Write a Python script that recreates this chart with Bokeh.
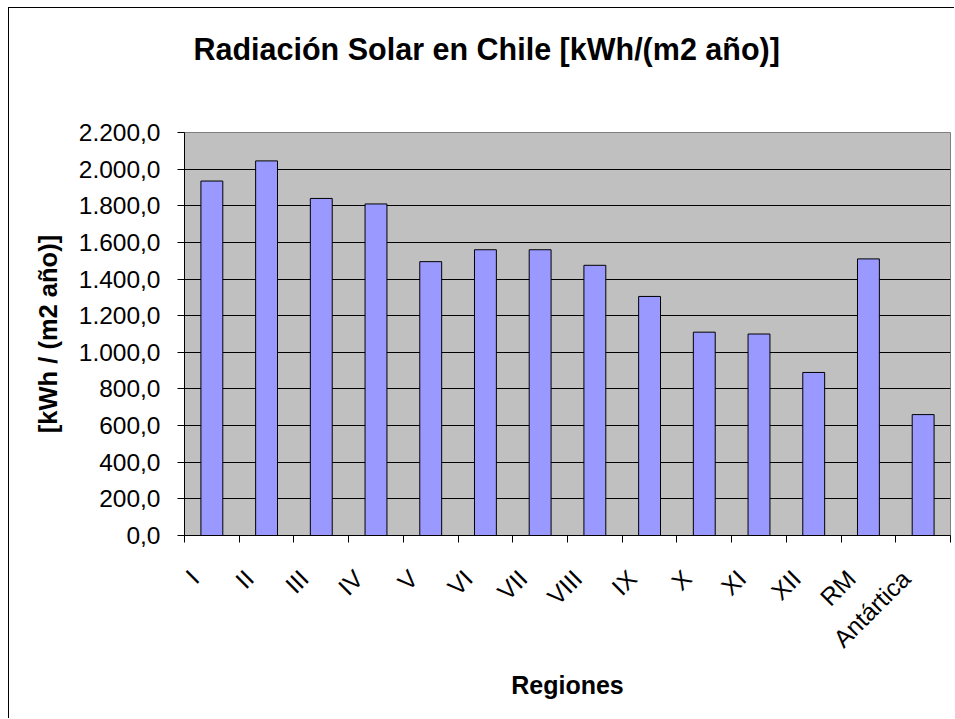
import math
from bokeh.plotting import figure
from bokeh.models import Range1d, FixedTicker, Title
from bokeh.embed import file_html
from bokeh.resources import INLINE

# ---- data ----
regions = ["I", "II", "III", "IV", "V", "VI", "VII", "VIII", "IX", "X", "XI", "XII", "RM", "Antártica"]
radiation = [1935, 2045, 1840, 1810, 1495, 1560, 1560, 1475, 1305, 1110, 1100, 890, 1510, 660]
y_ticks = [0, 200, 400, 600, 800, 1000, 1200, 1400, 1600, 1800, 2000, 2200]
y_tick_labels = ["0,0", "200,0", "400,0", "600,0", "800,0", "1.000,0", "1.200,0",
                 "1.400,0", "1.600,0", "1.800,0", "2.000,0", "2.200,0"]
title_text = "Radiación Solar en Chile [kWh/(m2 año)]"
x_label = "Regiones"
y_label = "[kWh / (m2 año)]"

FONT = "Liberation Sans"

n = len(regions)
x_centers = [i + 0.5 for i in range(n)]
x_bounds = list(range(n + 1))
# rotated labels end a little left of the category centre (as in the original)
x_label_pos = [i + 0.1875 for i in range(n)]

p = figure(width=946, height=711, output_backend="svg", toolbar_location=None,
           x_range=Range1d(0, n), y_range=Range1d(0, 2200),
           min_border_left=175, min_border_right=5, min_border_top=124, min_border_bottom=184)
p.styles = {"margin-left": "8px", "margin-top": "7px",
            "border-left": "1px solid black", "border-top": "1px solid black"}
p.background_fill_color = "#C0C0C0"
p.border_fill_color = "white"
p.outline_line_color = "#808080"
p.outline_line_width = 1

p.vbar(x=x_centers, top=radiation, width=0.4, fill_color="#9999FF",
       line_color="black", line_width=1)

# title: an empty spacer next to the frame pushes the real title up
spacer = Title(text=" ", text_font_size="10px", standoff=54)
p.add_layout(spacer, "above")
main_title = Title(text=title_text, align="left", offset=9, standoff=0,
                   text_font=FONT, text_font_size="30.5px", text_font_style="bold",
                   text_color="black")
p.add_layout(main_title, "above")

# grid
p.xgrid.visible = False
p.ygrid.ticker = FixedTicker(ticks=y_ticks[1:-1])
p.ygrid.grid_line_color = "black"
p.ygrid.grid_line_width = 1

# y axis
ya = p.yaxis[0]
ya.ticker = FixedTicker(ticks=y_ticks)
ya.major_label_overrides = dict(zip(y_ticks, y_tick_labels))
ya.major_tick_in = 0
ya.major_tick_out = 7
ya.minor_tick_line_color = None
ya.axis_line_color = "black"
ya.major_tick_line_color = "black"
ya.major_label_text_font = FONT
ya.major_label_text_font_size = "24.5px"
ya.major_label_text_color = "black"
ya.major_label_standoff = 17
ya.axis_label = y_label
ya.axis_label_text_font = FONT
ya.axis_label_text_font_size = "25.5px"
ya.axis_label_text_font_style = "bold"
ya.axis_label_text_color = "black"
ya.axis_label_standoff = 14

# x axis
xa = p.xaxis[0]
xa.ticker = FixedTicker(ticks=x_label_pos, minor_ticks=x_bounds)
xa.major_label_overrides = dict(zip(x_label_pos, regions))
xa.major_tick_line_color = None
xa.major_tick_in = 0
xa.major_tick_out = 7
xa.minor_tick_line_color = "black"
xa.minor_tick_in = 0
xa.minor_tick_out = 7
xa.axis_line_color = "black"
xa.major_label_orientation = math.pi / 4
xa.major_label_text_font = FONT
xa.major_label_text_font_size = "24.5px"
xa.major_label_text_color = "black"
xa.major_label_standoff = 32
xa.axis_label = x_label
xa.axis_label_text_font = FONT
xa.axis_label_text_font_size = "25px"
xa.axis_label_text_font_style = "bold"
xa.axis_label_text_color = "black"
xa.axis_label_standoff = 6

open("out.html", "w").write(file_html(p, INLINE))
